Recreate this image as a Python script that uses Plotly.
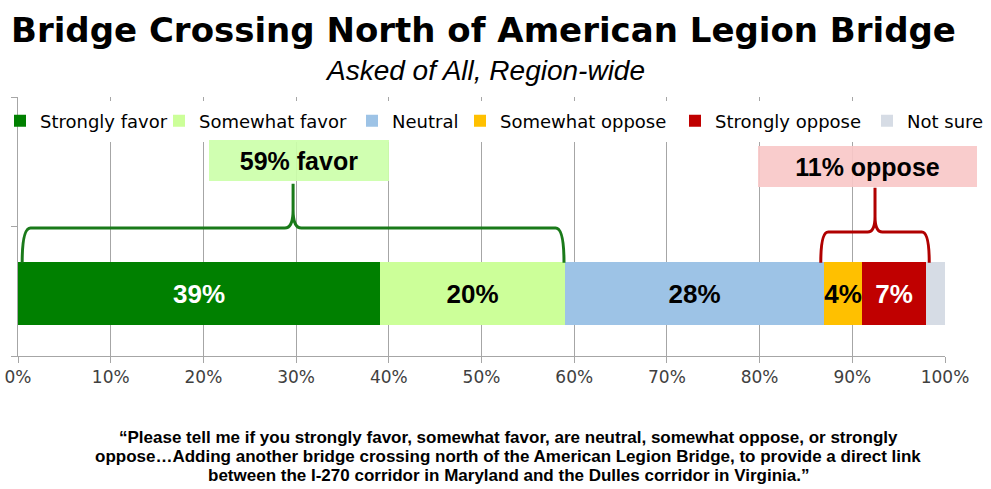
import plotly.graph_objects as go

categories = ["Strongly favor", "Somewhat favor", "Neutral", "Somewhat oppose", "Strongly oppose", "Not sure"]
values = [39, 20, 28, 4, 7, 2]
labels = ["39%", "20%", "28%", "4%", "7%", ""]
colors = ["#008000", "#ccff99", "#9dc3e6", "#ffc000", "#c00000", "#d6dce5"]
label_colors = ["white", "black", "black", "black", "white", "black"]
tick_vals = [0, 10, 20, 30, 40, 50, 60, 70, 80, 90, 100]
tick_text = ["0%", "10%", "20%", "30%", "40%", "50%", "60%", "70%", "80%", "90%", "100%"]

favor_total = "59% favor"
oppose_total = "11% oppose"

title = "Bridge Crossing North of American Legion Bridge"
subtitle = "Asked of All, Region-wide"
footnote_lines = [
    "“Please tell me if you strongly favor, somewhat favor, are neutral, somewhat oppose, or strongly",
    "oppose…Adding another bridge crossing north of the American Legion Bridge, to provide a direct link",
    "between the I-270 corridor in Maryland and the Dulles corridor in Virginia.”",
]

W, H = 991, 489
L, R, T, B = 18, 46, 97, 133
PW, PH = W - L - R, H - T - B

def px_y(py):  # pixel y -> paper y
    return (H - B - py) / PH

def px_x(px):
    return (px - L) / PW

# legend text start pixels (layout)
legend_text_x = [27, 199, 392, 500, 715, 907]
legend_names = ["legend"] + [f"legend{i}" for i in range(2, 7)]

BAR_Y = 0.483
fig = go.Figure()
for c, v, t, col, lc, lg in zip(categories, values, labels, colors, label_colors, legend_names):
    fig.add_trace(go.Bar(
        name=c, x=[v], y=[BAR_Y], orientation="h", width=0.487,
        marker=dict(color=col, line=dict(width=0)),
        text=[t], textposition="inside", insidetextanchor="middle",
        textangle=0, constraintext="none",
        textfont=dict(family="Liberation Sans", size=26, color=lc),
        texttemplate="<b>%{text}</b>", hoverinfo="skip", legend=lg,
    ))

cum = []
s = 0
for v in values:
    s += v
    cum.append(s)
favor_end = cum[1]
opp_start = cum[2]
opp_end = cum[4]

def brace(x0, x1, ybase, ytop, ylow, rx=0.9, ry=0.14):
    xm = (x0 + x1) / 2
    return (f"M {x0},{ylow} Q {x0},{ybase} {x0+rx},{ybase} "
            f"L {xm-rx},{ybase} Q {xm},{ybase} {xm},{ybase+ry} L {xm},{ytop} "
            f"M {xm},{ybase+ry} Q {xm},{ybase} {xm+rx},{ybase} "
            f"L {x1-rx},{ybase} Q {x1},{ybase} {x1},{ylow}")

# white band behind legend
fig.add_shape(type="rect", xref="paper", yref="paper", x0=0, x1=1,
              y0=px_y(142), y1=px_y(101), fillcolor="white", line=dict(width=0), layer="above")

fig.add_shape(type="path", xref="x", yref="y",
              path=brace(0.45, favor_end - 0.1, 0.988, 1.33, 0.72),
              line=dict(color="#1a7a1a", width=3))
fig.add_shape(type="path", xref="x", yref="y",
              path=brace(opp_start - 0.4, opp_end + 0.3, 0.957, 1.30, 0.72, rx=0.8, ry=0.12),
              line=dict(color="#b00000", width=3))

fig.add_annotation(x=30.3, y=1.51, xref="x", yref="y", text=f"<b>{favor_total}</b>",
                   showarrow=False, width=180, height=41, bgcolor="rgba(204,255,170,0.92)",
                   borderpad=0, borderwidth=0,
                   font=dict(family="Liberation Sans", size=25, color="black"))
fig.add_annotation(x=91.6, y=1.463, xref="x", yref="y", text=f"<b>{oppose_total}</b>",
                   showarrow=False, width=219, height=41, bgcolor="rgba(248,200,200,0.92)",
                   borderpad=0, borderwidth=0,
                   font=dict(family="Liberation Sans", size=25, color="black"))

fig.add_annotation(xref="paper", yref="paper", x=px_x(484), y=px_y(30),
                   text=f"<b>{title}</b>", showarrow=False, xanchor="center", yanchor="middle",
                   font=dict(family="DejaVu Sans", size=34, color="black"))
fig.add_annotation(xref="paper", yref="paper", x=px_x(485), y=px_y(70),
                   text=f"<i>{subtitle}</i>", showarrow=False, xanchor="center", yanchor="middle",
                   font=dict(family="Liberation Sans", size=28, color="black"))
for i, line in enumerate(footnote_lines):
    fig.add_annotation(xref="paper", yref="paper", x=px_x(508), y=px_y(437 + 19 * i),
                       text=f"<b>{line}</b>", showarrow=False, xanchor="center", yanchor="middle",
                       font=dict(family="Liberation Sans", size=17, color="black"))

layout_legends = {}
for lg, tx in zip(legend_names, legend_text_x):
    layout_legends[lg] = dict(
        orientation="h", xref="container", yref="container",
        x=max(tx - 40, 0) / W, y=1 - 121 / H, xanchor="left", yanchor="middle",
        bgcolor="rgba(0,0,0,0)", borderwidth=0, itemwidth=30,
        font=dict(family="DejaVu Sans", size=18, color="#000000"),
    )

fig.update_layout(
    width=W, height=H,
    margin=dict(l=L, r=R, t=T, b=B, autoexpand=False),
    paper_bgcolor="white", plot_bgcolor="white",
    barmode="stack", bargap=0,
    showlegend=True,
    xaxis=dict(range=[0, 100], tickvals=tick_vals, ticktext=tick_text,
               showgrid=True, gridcolor="#a6a6a6", gridwidth=1,
               showline=True, linecolor="#a6a6a6", linewidth=1,
               ticks="outside", ticklen=6, tickcolor="#a6a6a6",
               tickfont=dict(family="DejaVu Sans", size=17, color="#404040"),
               zeroline=False, fixedrange=True, automargin=False),
    yaxis=dict(range=[0, 2], tickvals=[0, 1, 2], showticklabels=False,
               showgrid=False, showline=True, linecolor="#a6a6a6", linewidth=1,
               ticks="outside", ticklen=6, tickcolor="#a6a6a6",
               zeroline=False, fixedrange=True, automargin=False),
    **layout_legends,
)

fig.write_html("out.html", config={"displayModeBar": False},
               post_script="document.body.style.margin='0px';document.body.style.padding='0px';document.body.style.overflow='hidden';")
